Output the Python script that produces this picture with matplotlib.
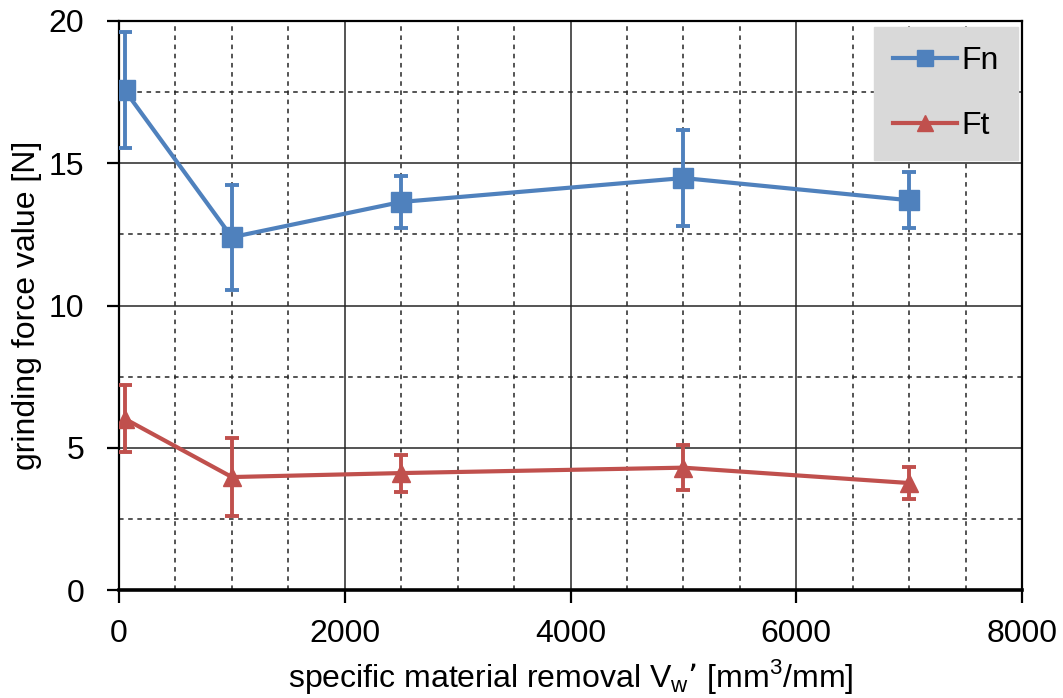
import matplotlib.pyplot as plt
from matplotlib.lines import Line2D
from matplotlib.ticker import MultipleLocator

# values
x_fn = [50, 1000, 2500, 5000, 7000]
fn = [17.57, 12.4, 13.64, 14.48, 13.7]
fn_err = [2.05, 1.85, 0.9, 1.7, 0.98]

x_ft = [50, 1000, 2500, 5000, 7000]
ft = [6.02, 3.97, 4.11, 4.3, 3.76]
ft_err = [1.18, 1.38, 0.65, 0.78, 0.56]

blue = "#4f81bd"
red = "#c0504d"

plt.rcParams["font.family"] = ["Liberation Sans", "DejaVu Sans"]

fig = plt.figure(figsize=(10.63, 6.98), dpi=100)
ax = fig.add_axes([119 / 1063, 1 - 590 / 698, (1022 - 119) / 1063, (590 - 21) / 698])

ax.errorbar(x_fn, fn, yerr=fn_err, color=blue, lw=3, marker="s", ms=14,
            elinewidth=2.8, capsize=5, capthick=2.8, zorder=5)
ax.errorbar(x_ft, ft, yerr=ft_err, color=red, lw=3, marker="^", ms=13,
            elinewidth=2.8, capsize=5, capthick=2.8, zorder=5)

ax.set_xlim(0, 8000)
ax.set_ylim(0, 20)
ax.xaxis.set_major_locator(MultipleLocator(2000))
ax.xaxis.set_minor_locator(MultipleLocator(500))
ax.yaxis.set_major_locator(MultipleLocator(5))
ax.yaxis.set_minor_locator(MultipleLocator(2.5))
ax.grid(which="major", color="#262626", lw=1.1, ls="-")
ax.grid(which="minor", color="#262626", lw=1.1, ls=(0, (3, 3)))
ax.set_axisbelow(True)

for s in ax.spines.values():
    s.set_color("black")
    s.set_linewidth(1.6)
ax.spines["bottom"].set_linewidth(2.6)

ax.tick_params(which="major", direction="out", length=9, width=1.6, labelsize=23)
ax.tick_params(axis="x", which="major", pad=12)
ax.tick_params(axis="y", which="major", pad=16)
ax.tick_params(which="minor", length=0)

ax.set_ylabel("grinding force value [N]", fontsize=23, labelpad=5)
ax.set_xlabel("specific material removal V$_\\mathregular{w}$’ [mm$^\\mathregular{3}$/mm]",
              fontsize=23, labelpad=6)

handles = [
    Line2D([], [], color=blue, lw=3, marker="s", ms=12),
    Line2D([], [], color=red, lw=3, marker="^", ms=12),
]
ax.legend(handles, ["Fn", "Ft"], loc="upper right", bbox_to_anchor=(0.9956, 0.9895),
          fontsize=23, frameon=True, fancybox=False, facecolor="#d9d9d9",
          edgecolor="#d9d9d9", framealpha=1, labelspacing=1.1, handlelength=2.0,
          borderpad=0.6, handletextpad=0.15, borderaxespad=0)

fig.savefig("out.png", dpi=100)
